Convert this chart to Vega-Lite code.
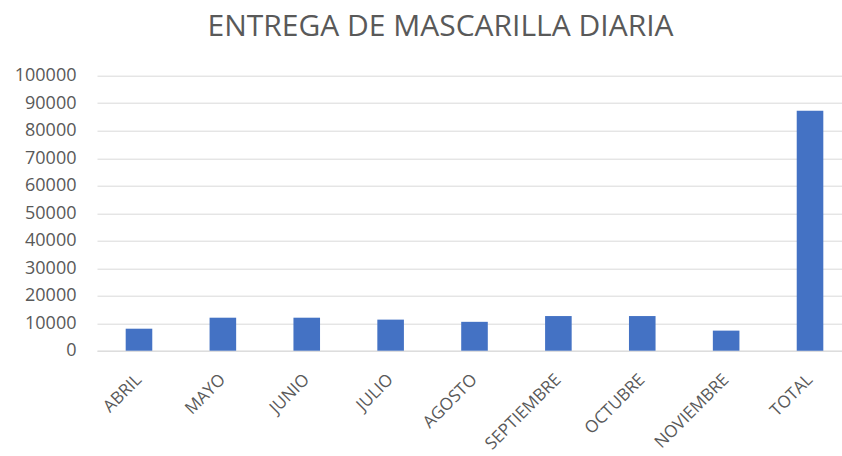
{
  "$schema": "https://vega.github.io/schema/vega-lite/v6.json",
  "width": 745,
  "height": 275,
  "autosize": {"type": "none"},
  "padding": {"left": 97, "top": 75.7, "right": 0, "bottom": 105.3},
  "background": "white",
  "title": {
    "text": "ENTREGA DE MASCARILLA DIARIA",
    "font": "Open Sans",
    "fontSize": 30,
    "fontWeight": "normal",
    "color": "#595959",
    "anchor": "middle",
    "dx": -29,
    "offset": 25
  },
  "data": {
    "values": [
      {"mes": "ABRIL", "valor": 8000},
      {"mes": "MAYO", "valor": 12000},
      {"mes": "JUNIO", "valor": 12000},
      {"mes": "JULIO", "valor": 11300},
      {"mes": "AGOSTO", "valor": 10500},
      {"mes": "SEPTIEMBRE", "valor": 12600},
      {"mes": "OCTUBRE", "valor": 12600},
      {"mes": "NOVIEMBRE", "valor": 7300},
      {"mes": "TOTAL", "valor": 87300}
    ]
  },
  "mark": {"type": "bar", "color": "#4472C4"},
  "encoding": {
    "x": {
      "field": "mes",
      "type": "nominal",
      "sort": null,
      "scale": {"paddingInner": 0.683, "paddingOuter": 0.342, "range": [0, 755]},
      "axis": {
        "title": null,
        "labelAngle": -45,
        "labelAlign": "right",
        "labelBaseline": "middle",
        "labelPadding": 26,
        "labelFont": "Open Sans",
        "labelFontSize": 17,
        "labelColor": "#595959",
        "ticks": false,
        "domainColor": "#d9d9d9",
        "domainWidth": 1
      }
    },
    "y": {
      "field": "valor",
      "type": "quantitative",
      "scale": {"domain": [0, 100000]},
      "axis": {
        "title": null,
        "values": [0, 10000, 20000, 30000, 40000, 50000, 60000, 70000, 80000, 90000, 100000],
        "format": "d",
        "labelFont": "Open Sans",
        "labelFontSize": 18,
        "labelColor": "#595959",
        "labelPadding": 21,
        "domain": false,
        "ticks": false,
        "gridColor": "#d9d9d9",
        "gridWidth": 1
      }
    }
  },
  "config": {"view": {"stroke": null}}
}
